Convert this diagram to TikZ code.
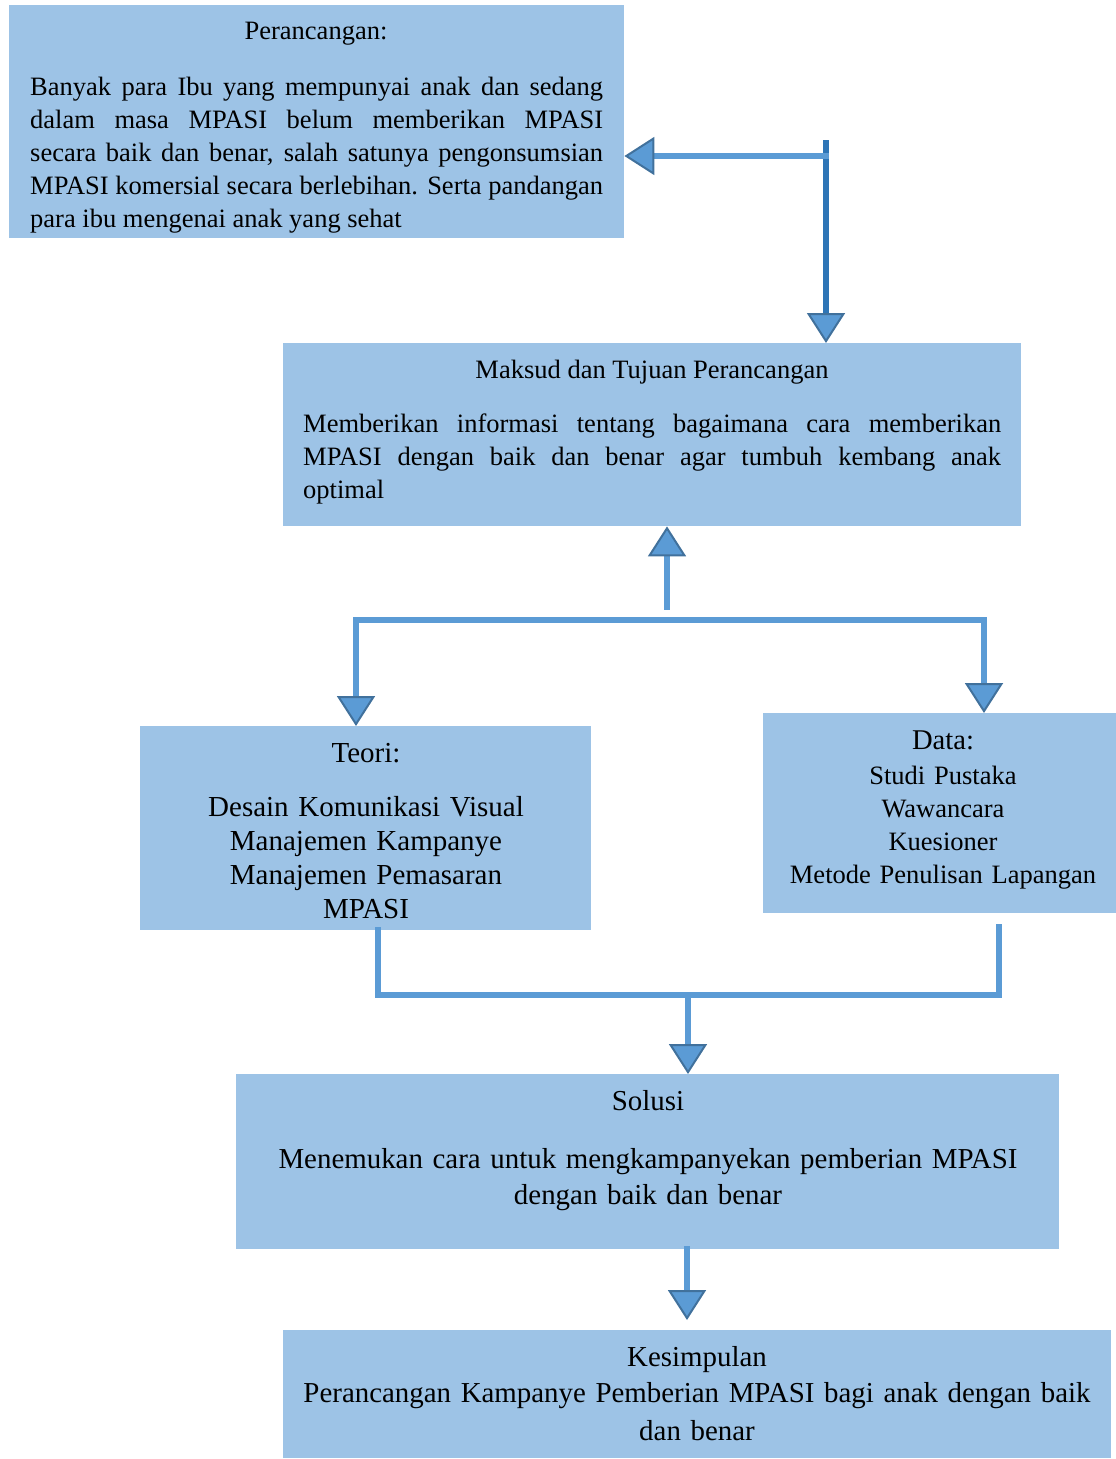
\documentclass[tikz,border=0pt]{standalone}
\usepackage{fontspec}
\setmainfont{Liberation Serif}
\usepackage{tikz}
\usetikzlibrary{arrows.meta}
\definecolor{kotakbiru}{HTML}{9DC3E6}
\definecolor{alur}{HTML}{5B9BD5}
\definecolor{alurtua}{HTML}{2E75B6}
\definecolor{alurtepi}{HTML}{41719C}
\newcommand{\hurufA}{\fontsize{26.5}{33}\selectfont}
\newcommand{\hurufB}{\fontsize{29}{34}\selectfont}
\newcommand{\hurufC}{\fontsize{28.9}{37}\selectfont}
\tikzset{
  kotak/.style={fill=kotakbiru, draw=none, inner sep=0pt, anchor=north west},
  judul/.style={text=black, inner sep=0pt, anchor=base},
  isi/.style={text=black, inner sep=0pt, anchor=base west, align=justify},
  daftar/.style={text=black, inner sep=0pt, anchor=base, align=center},
  garis/.style={draw=alur, line width=6pt, line cap=rect, line join=miter},
  panah/.style={garis, -{Triangle[width=38pt, length=30pt, fill=alur, color=alurtepi, line width=2pt]}}
}
\begin{document}
\begin{tikzpicture}[x=1pt, y=-1pt]
  \useasboundingbox (0,0) rectangle (1116,1459);

  % Kotak
  \node[kotak, minimum width=615pt, minimum height=233pt] (perancangan) at (9,5) {};
  \node[kotak, minimum width=738pt, minimum height=183pt] (maksud) at (283,343) {};
  \node[kotak, minimum width=451pt, minimum height=204pt] (teori) at (140,726) {};
  \node[kotak, minimum width=353pt, minimum height=200pt] (data) at (763,713) {};
  \node[kotak, minimum width=823pt, minimum height=175pt] (solusi) at (236,1074) {};
  \node[kotak, minimum width=828pt, minimum height=128pt] (kesimpulan) at (283,1330) {};

  % Teks
  \node[judul, font=\hurufA] (perancanganJudul) at (316,39) {Perancangan:};
  \begin{scope}
    \clip (perancangan.north west) rectangle (perancangan.south east);
    \node[isi, text width=573pt, font=\hurufA] (perancanganIsi) at (30,95)
      {Banyak para Ibu yang mempunyai anak dan sedang\linebreak
       dalam masa MPASI belum memberikan MPASI\linebreak
       secara baik dan benar, salah satunya pengonsumsian\linebreak
       MPASI komersial secara berlebihan. Serta pandangan\linebreak
       para ibu mengenai anak yang sehat};
  \end{scope}

  \node[judul, font=\hurufA] (maksudJudul) at (652,378) {Maksud dan Tujuan Perancangan};
  \node[isi, text width=698pt, font=\hurufA] (maksudIsi) at (303,432)
    {Memberikan informasi tentang bagaimana cara memberikan\linebreak
     MPASI dengan baik dan benar agar tumbuh kembang anak\linebreak
     optimal};

  \node[judul, font=\hurufB] (teoriJudul) at (366,762) {Teori:};
  \node[daftar, text width=440pt, font=\hurufB] (teoriIsi) at (366,816)
    {Desain Komunikasi Visual\\ Manajemen Kampanye\\ Manajemen Pemasaran\\ MPASI};

  \node[judul, font=\fontsize{28.6}{33}\selectfont] (dataJudul) at (943,749) {Data:};
  \node[daftar, text width=340pt, font=\hurufA] (dataIsi) at (943,784)
    {Studi Pustaka\\ Wawancara\\ Kuesioner\\ Metode Penulisan Lapangan};

  \node[judul, font=\hurufC] (solusiJudul) at (648,1110) {Solusi};
  \node[daftar, text width=800pt, font=\fontsize{28.9}{36}\selectfont] (solusiIsi) at (648,1168)
    {Menemukan cara untuk mengkampanyekan pemberian MPASI\\ dengan baik dan benar};

  \node[judul, font=\hurufC] (kesimpulanJudul) at (697,1366) {Kesimpulan};
  \node[daftar, text width=820pt, font=\fontsize{28.9}{38}\selectfont] (kesimpulanIsi) at (697,1402)
    {Perancangan Kampanye Pemberian MPASI bagi anak dengan baik\\ dan benar};

  % Alur
  \coordinate (atasKanan) at (826,143);
  \coordinate (belok) at (826,156);
  \draw[panah, draw=alurtua] (atasKanan) -- (atasKanan |- maksud.north);
  \draw[panah] (belok) -- (belok -| perancangan.east);

  \coordinate (naik) at (667,607);
  \coordinate (cabangKiri) at (356,620);
  \coordinate (cabangKanan) at (984,620);
  \draw[panah] (naik) -- (naik |- maksud.south);
  \draw[garis] (cabangKiri) -- (cabangKanan);
  \draw[panah] (cabangKiri) -- (cabangKiri |- teori.north);
  \draw[panah] (cabangKanan) -- (cabangKanan |- data.north);

  \coordinate (gabungKiri) at (378,995);
  \coordinate (gabungKanan) at (999,995);
  \coordinate (ujungData) at (999,927);
  \draw[garis] (gabungKiri |- teori.south) -- (gabungKiri) -- (gabungKanan) -- (ujungData);

  \coordinate (turun) at (688,1001);
  \coordinate (bawahSolusi) at (687,1320);
  \draw[panah] (turun) -- (turun |- solusi.north);
  \draw[panah] (bawahSolusi |- solusi.south) -- (bawahSolusi);
\end{tikzpicture}
\end{document}
